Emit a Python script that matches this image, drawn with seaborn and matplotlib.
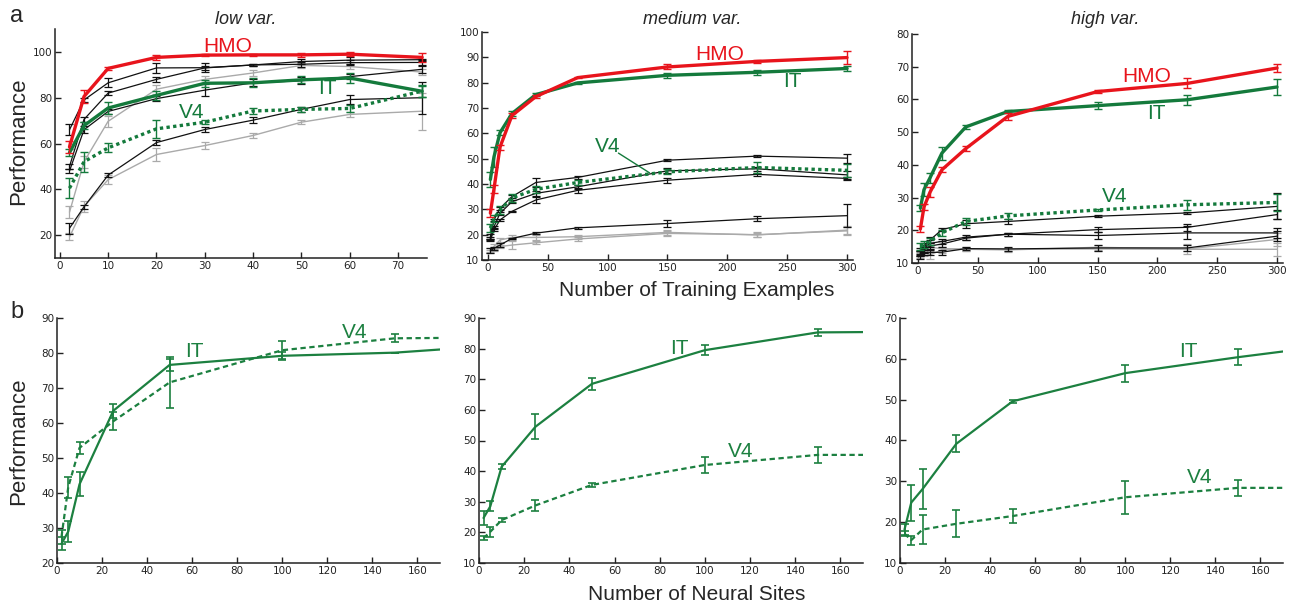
import matplotlib
matplotlib.use("Agg")
import matplotlib.pyplot as plt
import seaborn as sns
import numpy as np

sns.set_style("ticks")
plt.rcParams["font.family"] = ["DejaVu Sans"]

RED = "#e8141c"
GREEN = "#147a3c"
GREEN_B = "#1c8040"
GRAY = "#aaaaaa"

# ---------------- panel a: performance vs. number of training examples
train_low = [2, 5, 10, 20, 30, 40, 50, 60, 75]
train_mh = [2, 5, 10, 20, 40, 75, 150, 225, 300]

low_hmo = [58.5, 80.5, 92.8, 97.6, 98.6, 98.7, 98.7, 99.0, 97.6]
low_hmo_err = [2.8, 3.0, 0.8, 1.0, 0.5, 0.3, 0.8, 1.0, 2.0]
low_it = [56.0, 67.8, 75.5, 81.0, 86.3, 86.5, 87.8, 88.6, 82.8]
low_it_err = [1.5, 1.5, 2.5, 2.0, 1.5, 2.0, 1.5, 2.0, 2.5]
low_v4 = [40.5, 52.0, 58.1, 66.4, 69.3, 74.2, 74.9, 75.3, 82.9]
low_v4_err = [4.5, 4.5, 2.0, 4.0, 1.0, 1.5, 1.0, 1.5, 2.5]
low_black = [
    [66.0, 79.0, 86.5, 93.0, 93.1, 94.3, 95.8, 96.4, 96.6],
    [50.0, 70.5, 82.0, 88.0, 93.0, 94.3, 94.6, 95.3, 95.4],
    [48.0, 66.0, 74.0, 79.6, 83.3, 86.5, 87.4, 89.2, 92.4],
    [23.0, 32.3, 46.2, 60.4, 66.1, 70.2, 74.9, 79.2, 80.0],
]
low_black_err = [
    [2.5, 1.0, 2.0, 2.2, 2.0, 0.5, 1.0, 1.5, 0.5],
    [1.0, 1.0, 1.0, 1.0, 1.0, 0.5, 1.0, 1.0, 1.0],
    [1.0, 1.5, 1.0, 1.0, 2.5, 1.5, 1.5, 1.0, 1.5],
    [2.5, 1.0, 1.0, 1.0, 1.0, 1.2, 1.0, 2.0, 7.0],
]
low_gray = [
    [30.0, 52.0, 69.7, 83.7, 88.0, 90.8, 94.1, 93.6, 91.2],
    [19.2, 32.5, 44.2, 55.2, 59.1, 63.5, 69.3, 72.7, 74.1],
]
low_gray_err = [
    [2.5, 2.5, 2.5, 2.0, 1.5, 1.5, 1.0, 1.0, 1.5],
    [1.5, 2.5, 2.0, 3.0, 1.5, 1.0, 1.0, 1.0, 8.0],
]

med_hmo = [28.5, 38.0, 54.5, 67.0, 74.5, 82.0, 86.2, 88.4, 89.9]
med_hmo_err = [1.5, 1.5, 1.0, 1.0, 0.5, 0.3, 1.0, 0.5, 2.5]
med_it = [41.8, 50.7, 60.2, 67.8, 75.3, 79.9, 82.9, 84.1, 85.6]
med_it_err = [3.0, 4.0, 1.0, 1.0, 0.5, 0.5, 1.0, 1.0, 1.0]
med_v4 = [22.6, 26.4, 29.7, 34.5, 37.9, 40.6, 44.8, 46.5, 45.4]
med_v4_err = [1.5, 1.5, 1.5, 1.5, 1.5, 0.8, 1.0, 2.0, 2.5]
med_black = [
    [19.2, 25.8, 30.4, 35.0, 40.6, 42.6, 49.4, 51.0, 50.2],
    [18.5, 23.1, 28.4, 33.0, 36.3, 38.9, 45.2, 46.0, 43.6],
    [17.9, 21.8, 25.8, 29.2, 33.7, 37.5, 41.5, 43.8, 42.2],
    [13.7, 14.6, 15.9, 18.5, 20.6, 22.7, 24.4, 26.3, 27.5],
]
med_black_err = [
    [1.0, 0.5, 0.5, 0.5, 1.8, 0.7, 0.3, 0.3, 1.8],
    [0.5, 0.5, 0.5, 0.5, 1.0, 0.7, 1.0, 0.7, 1.5],
    [0.5, 0.5, 0.5, 0.3, 1.2, 1.0, 1.0, 0.7, 0.7],
    [1.0, 0.5, 0.8, 0.3, 0.5, 0.3, 1.3, 1.0, 4.5],
]
med_gray = [
    [14.0, 15.3, 17.9, 18.9, 18.9, 19.2, 20.9, 19.9, 21.8],
    [13.3, 14.2, 15.3, 15.9, 16.8, 18.3, 20.5, 20.0, 21.5],
]
med_gray_err = [
    [0.8, 1.0, 0.8, 1.0, 1.0, 0.8, 1.0, 1.0, 1.5],
    [0.5, 0.8, 0.5, 1.5, 0.6, 0.7, 1.0, 0.8, 1.5],
]

high_hmo = [20.4, 27.1, 31.6, 38.5, 45.0, 54.8, 62.4, 64.9, 69.6]
high_hmo_err = [1.0, 1.0, 1.5, 0.8, 0.8, 1.0, 0.5, 1.5, 1.2]
high_it = [26.8, 32.4, 36.0, 43.6, 51.6, 56.3, 58.1, 59.9, 63.8]
high_it_err = [1.0, 2.0, 1.5, 2.0, 0.5, 0.5, 1.0, 1.5, 2.5]
high_v4 = [15.1, 15.6, 16.6, 19.2, 22.7, 24.4, 26.2, 27.8, 28.5]
high_v4_err = [1.0, 1.0, 1.0, 1.0, 1.0, 0.8, 0.3, 1.5, 2.5]
high_black = [
    [13.5, 15.0, 17.0, 20.2, 22.0, 22.7, 24.3, 25.3, 27.3],
    [13.0, 14.5, 16.0, 16.6, 17.9, 18.8, 20.2, 20.9, 24.8],
    [12.8, 14.0, 15.2, 15.8, 17.6, 18.8, 18.4, 19.2, 19.2],
    [12.0, 12.8, 13.2, 13.3, 14.4, 14.3, 14.6, 14.6, 18.2],
]
high_black_err = [
    [1.0, 1.0, 1.0, 0.5, 1.2, 0.8, 0.3, 0.3, 4.0],
    [0.8, 1.0, 1.0, 0.8, 0.8, 0.5, 0.8, 1.0, 1.5],
    [0.8, 1.0, 1.0, 0.8, 0.5, 0.5, 1.2, 2.0, 1.5],
    [0.8, 0.5, 0.8, 0.8, 0.5, 0.5, 0.8, 0.8, 1.5],
]
high_gray = [
    [12.5, 13.5, 12.5, 14.0, 14.2, 14.0, 14.8, 14.3, 17.2],
    [13.6, 14.5, 14.8, 14.4, 14.3, 14.2, 14.3, 14.2, 14.2],
]
high_gray_err = [
    [1.0, 1.5, 1.2, 0.8, 0.5, 0.5, 0.8, 1.5, 2.0],
    [0.5, 0.5, 0.5, 0.5, 0.5, 0.5, 0.5, 0.5, 2.0],
]

# ---------------- panel b: performance vs. number of neural sites
sites = [2, 5, 10, 25, 50, 100, 150, 170]

bl_it = [25.5, 29.0, 42.5, 63.5, 76.6, 79.2, 80.1, 81.0]
bl_it_err = [1.8, 3.0, 3.4, 2.0, 1.8, 1.2, 0.0]
bl_v4 = [27.5, 41.7, 52.9, 60.5, 71.6, 80.8, 84.2, 84.3]
bl_v4_err = [2.0, 3.0, 1.8, 2.6, 7.2, 2.5, 1.1]

bm_it = [24.7, 28.5, 41.4, 54.5, 68.5, 79.5, 85.3, 85.4]
bm_it_err = [2.4, 1.6, 0.8, 4.0, 2.0, 1.6, 1.1]
bm_v4 = [18.1, 20.2, 24.0, 28.8, 35.5, 42.0, 45.3, 45.3]
bm_v4_err = [0.6, 1.6, 0.7, 1.8, 0.7, 2.7, 2.5]

br_it = [18.2, 24.8, 28.1, 39.2, 49.6, 56.5, 60.4, 61.8]
br_it_err = [1.3, 4.4, 4.9, 2.1, 0.3, 2.1, 1.9]
br_v4 = [17.2, 15.6, 18.2, 19.6, 21.5, 26.1, 28.4, 28.4]
br_v4_err = [0.7, 1.1, 3.6, 3.3, 1.7, 4.0, 2.0]

W, H = 1301, 610
fig = plt.figure(figsize=(W / 100, H / 100), dpi=100)


def add_axes(l, r, t, b):
    return fig.add_axes([l / W, 1 - b / H, (r - l) / W, (b - t) / H])


def style(ax, xlim, ylim, xticks, yticks):
    ax.set_xlim(*xlim)
    ax.set_ylim(*ylim)
    ax.set_xticks(xticks)
    ax.set_yticks(yticks)
    ax.tick_params(direction="in", length=4, width=1, labelsize=7.5, pad=2,
                   colors="#222222")
    for side in ("top", "right"):
        ax.spines[side].set_visible(False)
    for side in ("left", "bottom"):
        ax.spines[side].set_linewidth(1.1)
        ax.spines[side].set_color("#222222")
    ax.set_xlabel("")
    ax.set_ylabel("")


def series(ax, x, y, err, color, lw, ls="-", elw=1.0, cap=2.8, z=2, n_err=None):
    sns.lineplot(x=x, y=y, ax=ax, color=color, linewidth=lw, linestyle=ls,
                 zorder=z, legend=False)
    k = len(err) if n_err is None else n_err
    ax.errorbar(x[:k], y[:k], yerr=err[:k], fmt="none", ecolor=color,
                elinewidth=elw, capsize=cap, capthick=elw, zorder=z)


LABEL_FONT = ["Liberation Sans", "DejaVu Sans"]


def tag(ax, x, y, text, color):
    ax.text(x, y, text, color=color, fontsize=15, ha="center", va="center",
            family=LABEL_FONT, zorder=10)


top_panels = [
    (add_axes(55, 427, 29, 258), train_low, low_hmo, low_hmo_err, low_it, low_it_err,
     low_v4, low_v4_err, low_black, low_black_err, low_gray, low_gray_err,
     (-1, 76), (10, 110), range(0, 71, 10), range(20, 101, 20)),
    (add_axes(482, 853, 32, 260), train_mh, med_hmo, med_hmo_err, med_it, med_it_err,
     med_v4, med_v4_err, med_black, med_black_err, med_gray, med_gray_err,
     (-5, 305), (10, 100), range(0, 301, 50), range(10, 101, 10)),
    (add_axes(912, 1283, 34, 263), train_mh, high_hmo, high_hmo_err, high_it, high_it_err,
     high_v4, high_v4_err, high_black, high_black_err, high_gray, high_gray_err,
     (-5, 305), (10, 80), range(0, 301, 50), range(10, 81, 10)),
]

top_axes = []
for (ax, x, hmo, hmo_e, it, it_e, v4, v4_e, blk, blk_e, gry, gry_e,
     xl, yl, xt, yt) in top_panels:
    x = np.asarray(x)
    for g, ge in zip(gry, gry_e):
        series(ax, x, np.asarray(g), ge, GRAY, 1.0, elw=0.9, z=2)
    for b, be in zip(blk, blk_e):
        series(ax, x, np.asarray(b), be, "#111111", 0.9, elw=0.9, z=3)
    series(ax, x, np.asarray(v4), v4_e, GREEN, 2.4, ls=(0, (1.0, 1.0)), elw=1.0, z=4)
    series(ax, x, np.asarray(it), it_e, GREEN, 2.4, elw=1.0, z=5)
    series(ax, x, np.asarray(hmo), hmo_e, RED, 2.4, elw=1.0, z=6)
    style(ax, xl, yl, xt, yt)
    top_axes.append(ax)

ax_l, ax_m, ax_h = top_axes
tag(ax_l, 34.8, 102.5, "HMO", RED)
tag(ax_l, 55.3, 84.1, "IT", GREEN)
tag(ax_l, 27.3, 73.5, "V4", GREEN)
tag(ax_m, 194, 91.2, "HMO", RED)
tag(ax_m, 254, 80.6, "IT", GREEN)
tag(ax_m, 99.7, 54.9, "V4", GREEN)
ax_m.plot([109, 135], [52.2, 44.4], color=GREEN, linewidth=1.0, zorder=7)
tag(ax_h, 191, 67.0, "HMO", RED)
tag(ax_h, 199.4, 55.7, "IT", GREEN)
tag(ax_h, 164.4, 30.3, "V4", GREEN)

bottom_panels = [
    (add_axes(57, 440, 318, 563), bl_it, bl_it_err, bl_v4, bl_v4_err, (20, 90),
     range(20, 91, 10), [(60.8, 80.4), (132.2, 85.8)]),
    (add_axes(479, 863, 318, 563), bm_it, bm_it_err, bm_v4, bm_v4_err, (10, 90),
     range(10, 91, 10), [(88.8, 80.0), (115.9, 46.3)]),
    (add_axes(900, 1283, 318, 563), br_it, br_it_err, br_v4, br_v4_err, (10, 70),
     range(10, 71, 10), [(127.8, 61.8), (133.0, 30.9)]),
]

s = np.asarray(sites)
for ax, it, it_e, v4, v4_e, yl, yt, pos in bottom_panels:
    series(ax, s, np.asarray(v4), v4_e, GREEN_B, 1.6, ls=(0, (2.4, 1.6)),
           elw=1.2, cap=3.2, z=3, n_err=7)
    series(ax, s, np.asarray(it), it_e, GREEN_B, 1.6, elw=1.2, cap=3.2, z=4, n_err=7)
    style(ax, (0, 170), yl, range(0, 161, 20), yt)
    tag(ax, pos[0][0], pos[0][1], "IT", GREEN_B)
    tag(ax, pos[1][0], pos[1][1], "V4", GREEN_B)

# titles, axis labels and panel letters
for px, txt in [(246, "low var."), (692, "medium var."), (1105, "high var.")]:
    fig.text(px / W, 1 - 20 / H, txt, ha="center", va="center", fontsize=13,
             style="italic", family=LABEL_FONT)
fig.text(19 / W, 1 - 141 / H, "Performance", rotation=90, ha="center", va="center",
         fontsize=16, family=LABEL_FONT)
fig.text(19 / W, 1 - 441 / H, "Performance", rotation=90, ha="center", va="center",
         fontsize=16, family=LABEL_FONT)
fig.text(697 / W, 1 - 290 / H, "Number of Training Examples", ha="center", va="center",
         fontsize=15, family=LABEL_FONT)
fig.text(697 / W, 1 - 595 / H, "Number of Neural Sites", ha="center", va="center",
         fontsize=15, family=LABEL_FONT)
fig.text(17 / W, 1 - 16 / H, "a", ha="center", va="center", fontsize=17,
         family=LABEL_FONT)
fig.text(17 / W, 1 - 312 / H, "b", ha="center", va="center", fontsize=17,
         family=LABEL_FONT)

fig.savefig("out.png", dpi=100, facecolor="white")
